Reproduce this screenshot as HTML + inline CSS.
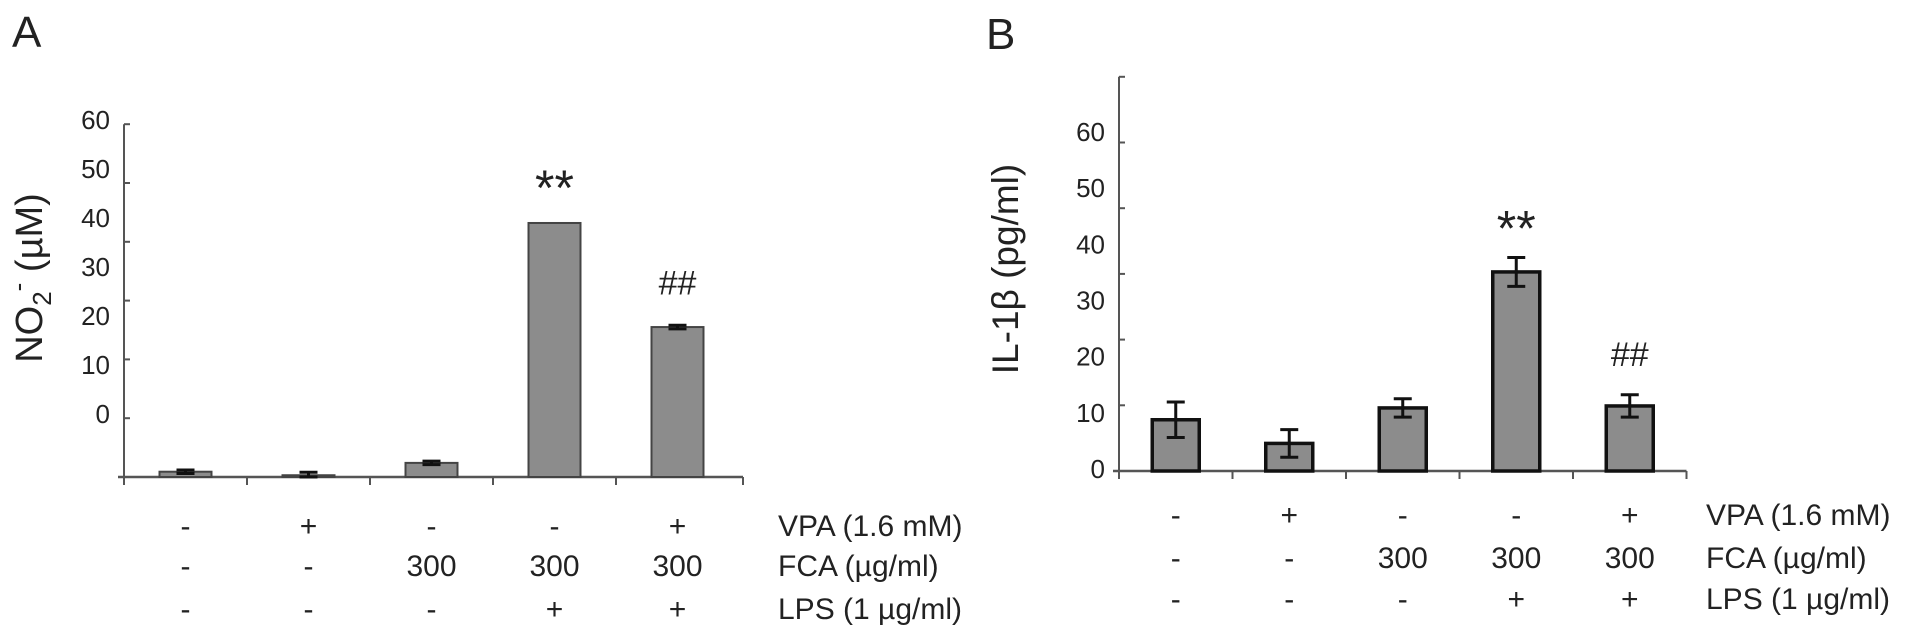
<!DOCTYPE html>
<html><head><meta charset="utf-8"><style>
html,body{margin:0;padding:0;background:#fff;overflow:hidden;}
svg{display:block;font-family:"Liberation Sans",sans-serif;}
</style></head><body>
<svg id="fig" width="1913" height="639" viewBox="0 0 1913 639" xmlns="http://www.w3.org/2000/svg"></svg>
<script>
const categories = ["ctrl","VPA","FCA","FCA+LPS","VPA+FCA+LPS"];
const valuesA = [0.9, 0.3, 2.4, 43.2, 25.5];
const errorsA = [0.3, 0.5, 0.3, 0, 0.3];
const valuesB = [7.8, 4.2, 9.6, 30.3, 9.9];
const errorsB = [2.7, 2.1, 1.4, 2.2, 1.7];
const tickLabelsA = ["60","50","40","30","20","10","0"];
const tickLabelsB = ["60","50","40","30","20","10","0"];
const rowVPA = ["-","+","-","-","+"];
const rowFCA = ["-","-","300","300","300"];
const rowLPS = ["-","-","-","+","+"];
const rowNames = ["VPA (1.6 mM)","FCA (\u00b5g/ml)","LPS (1 \u00b5g/ml)"];

const NS="http://www.w3.org/2000/svg";
const svg=document.getElementById('fig');
function mk(tag,attrs,parent){const e=document.createElementNS(NS,tag);for(const k in attrs)e.setAttribute(k,attrs[k]);(parent||svg).appendChild(e);return e;}

function panel(cfg){
  const g=mk('g',{});
  
  
  const y=v=>cfg.y0-v*cfg.perUnit;
  const x=i=>cfg.xStart+(i+0.5)*cfg.step;
  const L=mk('text',{x:cfg.letterX,y:cfg.letterY,'font-size':44,fill:'#222'},g);L.textContent=cfg.letter;
  
  const ya=mk('line',{x1:cfg.xStart,y1:y(60),x2:cfg.xStart,y2:cfg.y0,stroke:'#555','stroke-width':2},g);
  
  for(let v=0;v<=60;v+=10){mk('line',{x1:cfg.xStart,y1:y(v),x2:cfg.xStart+6,y2:y(v),stroke:'#555','stroke-width':2},g);}
  cfg.labels.forEach((t,i)=>{
    const ly=cfg.labTop+i*(cfg.labBot-cfg.labTop)/(cfg.labels.length-1);
    const e=mk('text',{x:cfg.xStart-14,y:ly+9,'font-size':26,'text-anchor':'end',fill:'#222'},g);e.textContent=t;
    
  });
  const xEnd=cfg.xStart+categories.length*cfg.step+cfg.extra;
  const xa=mk('line',{x1:cfg.xStart-6,y1:cfg.y0,x2:xEnd,y2:cfg.y0,stroke:'#555','stroke-width':2.5},g);
  
  for(let i=0;i<=categories.length;i++){const tx=i<categories.length?cfg.xStart+i*cfg.step:xEnd;mk('line',{x1:tx,y1:cfg.y0,x2:tx,y2:cfg.y0+8,stroke:'#555','stroke-width':2},g);}
  const T=mk('text',{x:0,y:0,'font-size':cfg.titleSize,'text-anchor':'middle',fill:'#222',transform:`translate(${cfg.titleX},${cfg.titleY}) rotate(-90)`},g);
  T.innerHTML=cfg.title;
  cfg.values.forEach((v,i)=>{
    const b=mk('rect',{x:x(i)-cfg.bw/2,y:y(v),width:cfg.bw,height:cfg.y0-y(v),fill:'#8c8c8c',stroke:cfg.stroke,'stroke-width':cfg.sw},g);
    
    const e=cfg.errors[i];
    if(e>0){
      const eg=mk('g',{stroke:'#111','stroke-width':3},g);
      
      mk('line',{x1:x(i),y1:y(v+e),x2:x(i),y2:y(Math.max(0,v-e))},eg);
      mk('line',{x1:x(i)-9,y1:y(v+e),x2:x(i)+9,y2:y(v+e)},eg);
      mk('line',{x1:x(i)-9,y1:y(Math.max(0,v-e)),x2:x(i)+9,y2:y(Math.max(0,v-e))},eg);
    }
  });
  const s=mk('text',{x:x(3),y:y(cfg.values[3]+cfg.errors[3])-cfg.starOff,'font-size':50,'text-anchor':'middle',fill:'#222'},g);s.textContent='**';
  
  const h=mk('text',{x:x(4),y:y(cfg.values[4]+cfg.errors[4])-cfg.hashOff,'font-size':34,'text-anchor':'middle',fill:'#222'},g);h.textContent='##';
  
  [rowVPA,rowFCA,rowLPS].forEach((row,r)=>{
    row.forEach((t,i)=>{const e=mk('text',{x:x(i),y:cfg.rowY[r]+10,'font-size':30,'text-anchor':'middle',fill:'#222'},g);e.textContent=t;
      });
    const n=mk('text',{x:cfg.rowLabelX,y:cfg.rowY[r]+10,'font-size':30,fill:'#222'},g);n.textContent=rowNames[r];
    
  });
}
panel({name:'panel-a',letter:'A',letterX:12,letterY:47,xStart:124,step:123,extra:4,y0:477,perUnit:5.88,bw:52,stroke:'#444',sw:2,
  labels:tickLabelsA,labTop:120,labBot:414,title:'NO<tspan font-size="26" dy="9">2</tspan><tspan font-size="26" dy="-24">-</tspan><tspan dy="15"> (\u00b5M)</tspan>',titleSize:38,titleX:42,titleY:278,
  values:valuesA,errors:errorsA,starOff:18,hashOff:31,rowY:[526,566,609],rowLabelX:778});
panel({name:'panel-b',letter:'B',letterX:986,letterY:49,xStart:1119,step:113.5,extra:0,y0:471,perUnit:6.57,bw:47,stroke:'#111',sw:3.5,
  labels:tickLabelsB,labTop:132,labBot:469,title:'IL-1\u03b2 (pg/ml)',titleSize:37,titleX:1018,titleY:269,
  values:valuesB,errors:errorsB,starOff:12,hashOff:29,rowY:[515,558,599],rowLabelX:1706});
</script>
</body></html>
